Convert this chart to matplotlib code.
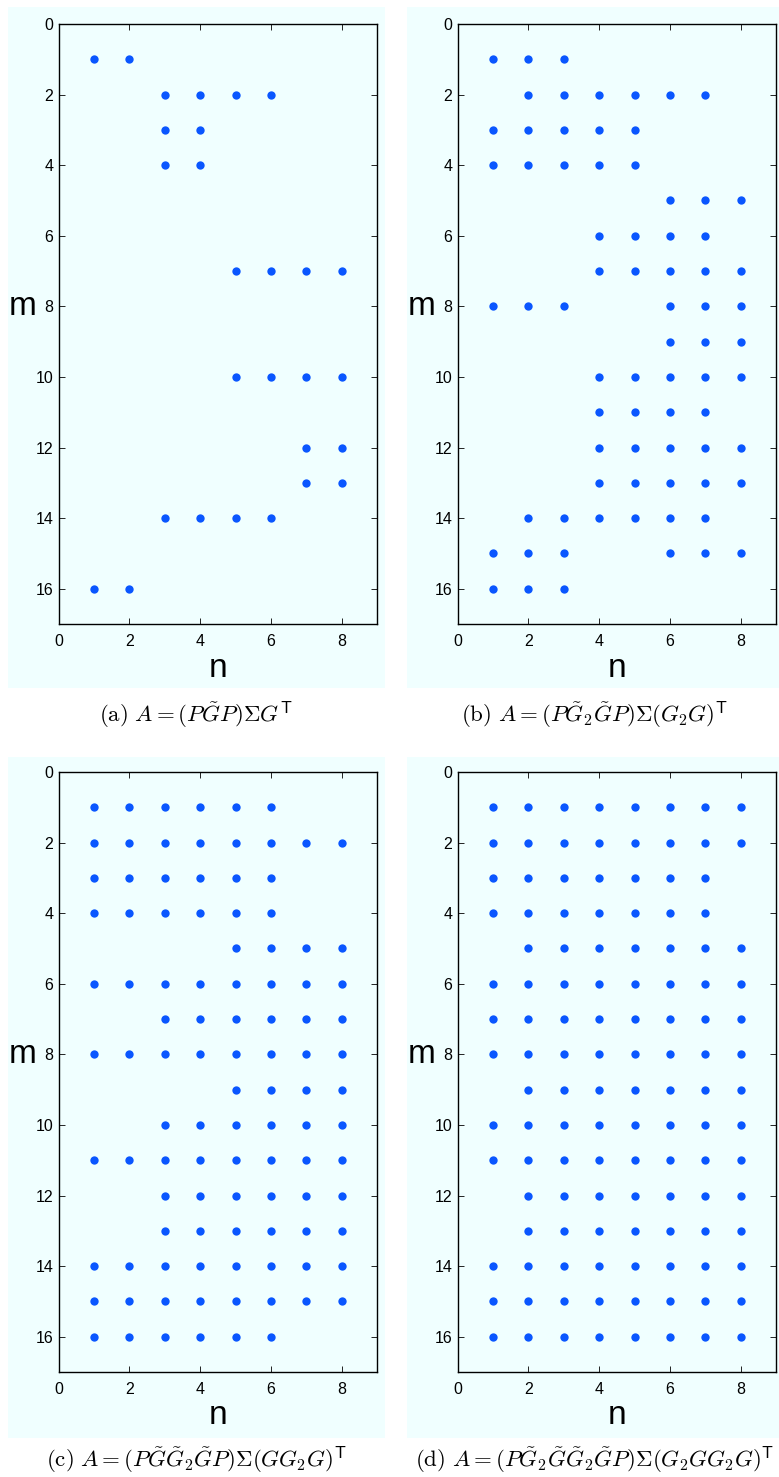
import matplotlib
matplotlib.use('Agg')
import matplotlib.pyplot as plt
from matplotlib.patches import Rectangle
from matplotlib.transforms import blended_transform_factory

plt.rcParams['font.family'] = ['Liberation Sans', 'DejaVu Sans']
plt.rcParams['mathtext.fontset'] = 'cm'

# nonzero pattern of each matrix: row index m -> list of column indices n
rows_a = [1, 2, 3, 4, 7, 10, 12, 13, 14, 16]
cols_a = [[1, 2], [3, 4, 5, 6], [3, 4], [3, 4], [5, 6, 7, 8],
          [5, 6, 7, 8], [7, 8], [7, 8], [3, 4, 5, 6], [1, 2]]

rows_b = [1, 2, 3, 4, 5, 6, 7, 8, 9, 10, 11, 12, 13, 14, 15, 16]
cols_b = [[1, 2, 3], [2, 3, 4, 5, 6, 7], [1, 2, 3, 4, 5], [1, 2, 3, 4, 5],
          [6, 7, 8], [4, 5, 6, 7], [4, 5, 6, 7, 8], [1, 2, 3, 6, 7, 8],
          [6, 7, 8], [4, 5, 6, 7, 8], [4, 5, 6, 7], [4, 5, 6, 7, 8],
          [4, 5, 6, 7, 8], [2, 3, 4, 5, 6, 7], [1, 2, 3, 6, 7, 8], [1, 2, 3]]

rows_c = [1, 2, 3, 4, 5, 6, 7, 8, 9, 10, 11, 12, 13, 14, 15, 16]
cols_c = [[1, 2, 3, 4, 5, 6], [1, 2, 3, 4, 5, 6, 7, 8], [1, 2, 3, 4, 5, 6],
          [1, 2, 3, 4, 5, 6], [5, 6, 7, 8], [1, 2, 3, 4, 5, 6, 7, 8],
          [3, 4, 5, 6, 7, 8], [1, 2, 3, 4, 5, 6, 7, 8], [5, 6, 7, 8],
          [3, 4, 5, 6, 7, 8], [1, 2, 3, 4, 5, 6, 7, 8], [3, 4, 5, 6, 7, 8],
          [3, 4, 5, 6, 7, 8], [1, 2, 3, 4, 5, 6, 7, 8],
          [1, 2, 3, 4, 5, 6, 7, 8], [1, 2, 3, 4, 5, 6]]

rows_d = [1, 2, 3, 4, 5, 6, 7, 8, 9, 10, 11, 12, 13, 14, 15, 16]
cols_d = [[1, 2, 3, 4, 5, 6, 7, 8], [1, 2, 3, 4, 5, 6, 7, 8],
          [1, 2, 3, 4, 5, 6, 7], [1, 2, 3, 4, 5, 6, 7],
          [2, 3, 4, 5, 6, 7, 8], [1, 2, 3, 4, 5, 6, 7, 8],
          [1, 2, 3, 4, 5, 6, 7, 8], [1, 2, 3, 4, 5, 6, 7, 8],
          [2, 3, 4, 5, 6, 7, 8], [1, 2, 3, 4, 5, 6, 7, 8],
          [1, 2, 3, 4, 5, 6, 7, 8], [2, 3, 4, 5, 6, 7, 8],
          [2, 3, 4, 5, 6, 7, 8], [1, 2, 3, 4, 5, 6, 7, 8],
          [1, 2, 3, 4, 5, 6, 7, 8], [1, 2, 3, 4, 5, 6, 7, 8]]

captions = [
    r'$\mathrm{(a)}\ A=(P\tilde{G}P)\Sigma G^{\mathsf{T}}$',
    r'$\mathrm{(b)}\ A=(P\tilde{G}_2\tilde{G}P)\Sigma(G_2G)^{\mathsf{T}}$',
    r'$\mathrm{(c)}\ A=(P\tilde{G}\tilde{G}_2\tilde{G}P)\Sigma(GG_2G)^{\mathsf{T}}$',
    r'$\mathrm{(d)}\ A=(P\tilde{G}_2\tilde{G}\tilde{G}_2\tilde{G}P)\Sigma(G_2GG_2G)^{\mathsf{T}}$',
]

W, H = 779, 1477
bg = '#f0ffff'
dot = '#0a56ff'

fig = plt.figure(figsize=(W / 100, H / 100), dpi=100)

# pixel layout (left, top) of each axes box and panel background
axes_px = [(58.7, 24), (457.7, 24), (58.7, 772), (457.7, 772)]
bg_px = [(8, 7), (407, 7), (8, 757), (407, 757)]
cap_px = [(196, 715), (595, 715), (196, 1460), (595, 1460)]
ax_w, ax_h = 318.5, 600
bg_w, bg_h = 377, 681

panels = [(rows_a, cols_a), (rows_b, cols_b), (rows_c, cols_c), (rows_d, cols_d)]

for i, (rows, cols) in enumerate(panels):
    bx, by = bg_px[i]
    fig.patches.append(Rectangle((bx / W, 1 - (by + bg_h) / H), bg_w / W, bg_h / H,
                                 transform=fig.transFigure, facecolor=bg,
                                 edgecolor='none', zorder=-5))
    lx, ty = axes_px[i]
    ax = fig.add_axes([lx / W, 1 - (ty + ax_h) / H, ax_w / W, ax_h / H])
    ax.set_zorder(2)
    ax.set_facecolor(bg)

    xs, ys = [], []
    for r, cs in zip(rows, cols):
        for c in cs:
            xs.append(c)
            ys.append(r)
    ax.plot(xs, ys, 'o', color=dot, markersize=6, markeredgewidth=0)

    ax.set_xlim(0, 9)
    ax.set_ylim(17, 0)
    ax.set_xticks(range(0, 9, 2))
    ax.set_yticks(range(0, 17, 2))
    ax.tick_params(direction='in', length=4, width=0.6, top=True, right=True,
                   labelsize=11.5)
    ax.tick_params(axis='x', pad=7)
    ax.tick_params(axis='y', pad=4)
    for s in ax.spines.values():
        s.set_linewidth(1.0)

    trans = blended_transform_factory(ax.transAxes, ax.transData)
    ax.text(-0.068, 8.24, 'm', transform=trans, ha='right', va='baseline', fontsize=24)
    ax.text(0.5, -0.0875, 'n', transform=ax.transAxes, ha='center', va='baseline',
            fontsize=24)

    cx, cy = cap_px[i]
    fig.text(cx / W, 1 - cy / H, captions[i], ha='center', va='center', fontsize=16.5)

fig.savefig('out.png', dpi=100)
